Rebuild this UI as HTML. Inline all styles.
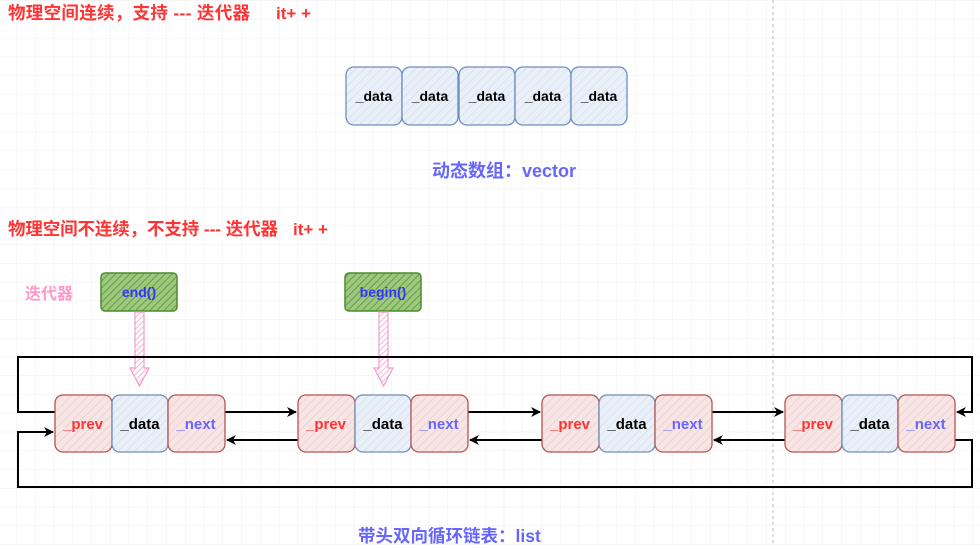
<!DOCTYPE html>
<html><head><meta charset="utf-8"><style>
html,body{margin:0;padding:0;background:#fff;}
body{width:980px;height:545px;overflow:hidden;}
svg text{font-family:"Liberation Sans","Noto Sans CJK SC",sans-serif;font-weight:bold;}
</style></head><body>
<svg width="980" height="545" xmlns="http://www.w3.org/2000/svg">
<defs>
<pattern id="grid" width="18.75" height="18.75" patternUnits="userSpaceOnUse" x="-2" y="1">
<path d="M18.75 0V18.75M0 18.75H18.75" stroke="#ececec" stroke-width="1" fill="none"/>
</pattern>
<pattern id="hb" width="6" height="6" patternUnits="userSpaceOnUse" patternTransform="rotate(45)">
<rect width="6" height="6" fill="#eaf0f8"/><line x1="0" y1="0" x2="0" y2="6" stroke="#d0dcef" stroke-width="1.5"/>
</pattern>
<pattern id="hr" width="6" height="6" patternUnits="userSpaceOnUse" patternTransform="rotate(45)">
<rect width="6" height="6" fill="#f8e6e6"/><line x1="0" y1="0" x2="0" y2="6" stroke="#efc9c9" stroke-width="1.5"/>
</pattern>
<pattern id="hg" width="5" height="5" patternUnits="userSpaceOnUse" patternTransform="rotate(45)">
<rect width="5" height="5" fill="#9cc97f"/><line x1="0" y1="0" x2="0" y2="5" stroke="#5e9a3e" stroke-width="1.8"/>
</pattern>
<pattern id="hp" width="4" height="4" patternUnits="userSpaceOnUse" patternTransform="rotate(45)">
<rect width="4" height="4" fill="#fff"/><line x1="0" y1="0" x2="0" y2="4" stroke="#f29cc8" stroke-width="1.5"/>
</pattern>
<marker id="ar" markerWidth="10" markerHeight="10" refX="9" refY="5" orient="auto" markerUnits="userSpaceOnUse">
<path d="M0,0 L10,5 L0,10 L3,5 Z" fill="#000"/>
</marker>
</defs>
<rect width="980" height="545" fill="url(#grid)"/>
<line x1="773" y1="0" x2="773" y2="545" stroke="#bbb" stroke-dasharray="3,3"/>

<text x="8" y="19" fill="#ff3333" font-size="17.5" textLength="242" lengthAdjust="spacing">物理空间连续，支持 --- 迭代器</text>
<text x="276" y="19" fill="#ff3333" font-size="17">it+ +</text>
<text x="8" y="235" fill="#ff3333" font-size="17.5" textLength="270" lengthAdjust="spacing">物理空间不连续，不支持 --- 迭代器</text>
<text x="293" y="235" fill="#ff3333" font-size="17">it+ +</text>

<g stroke="#6c8ebf" stroke-width="1.3" fill="url(#hb)">
<rect x="346" y="67" width="56" height="58" rx="8"/>
<rect x="402" y="67" width="56" height="58" rx="8"/>
<rect x="459" y="67" width="56" height="58" rx="8"/>
<rect x="515" y="67" width="56" height="58" rx="8"/>
<rect x="571" y="67" width="56" height="58" rx="8"/>
</g>
<g font-size="14" fill="#000" text-anchor="middle">
<text x="374" y="101">_data</text><text x="430" y="101">_data</text><text x="487" y="101">_data</text><text x="543" y="101">_data</text><text x="599" y="101">_data</text>
</g>
<text x="432" y="177" fill="#6666ff" font-size="18">动态数组：vector</text>

<text x="25" y="299" fill="#ff99cc" font-size="16">迭代器</text>
<rect x="101" y="273" width="76" height="38" rx="4" fill="url(#hg)" stroke="#4d8a2e" stroke-width="1.5"/>
<text x="139" y="297" fill="#3333ff" font-size="14" text-anchor="middle">end()</text>
<rect x="345" y="273" width="76" height="38" rx="4" fill="url(#hg)" stroke="#4d8a2e" stroke-width="1.5"/>
<text x="383" y="297" fill="#3333ff" font-size="14" text-anchor="middle">begin()</text>
<path d="M135,312 H144 V368 H149 L139.5,386 L130,368 H135 Z" fill="url(#hp)" stroke="#f29cc8" stroke-width="1.2"/>
<path d="M379,312 H388 V368 H393 L383.5,386 L374,368 H379 Z" fill="url(#hp)" stroke="#f29cc8" stroke-width="1.2"/>

<g fill="none" stroke="#000" stroke-width="2">
<polyline points="55,412 18,412 18,357 972,357 972,412 957,412" marker-end="url(#ar)"/>
<polyline points="955,440 972,440 972,487 18,487 18,432 53,432" marker-end="url(#ar)"/>
<line x1="225" y1="412" x2="296" y2="412" marker-end="url(#ar)"/>
<line x1="298" y1="440" x2="227" y2="440" marker-end="url(#ar)"/>
<line x1="468" y1="412" x2="540" y2="412" marker-end="url(#ar)"/>
<line x1="542" y1="440" x2="470" y2="440" marker-end="url(#ar)"/>
<line x1="712" y1="412" x2="783" y2="412" marker-end="url(#ar)"/>
<line x1="785" y1="440" x2="714" y2="440" marker-end="url(#ar)"/>
</g>

<g stroke-width="1.3">
<rect x="55" y="395" width="57" height="57" rx="8" fill="url(#hr)" stroke="#b85450"/>
<rect x="112" y="395" width="56" height="57" rx="8" fill="url(#hb)" stroke="#6c8ebf"/>
<rect x="168" y="395" width="57" height="57" rx="8" fill="url(#hr)" stroke="#b85450"/>
<rect x="298" y="395" width="57" height="57" rx="8" fill="url(#hr)" stroke="#b85450"/>
<rect x="355" y="395" width="56" height="57" rx="8" fill="url(#hb)" stroke="#6c8ebf"/>
<rect x="411" y="395" width="57" height="57" rx="8" fill="url(#hr)" stroke="#b85450"/>
<rect x="542" y="395" width="57" height="57" rx="8" fill="url(#hr)" stroke="#b85450"/>
<rect x="599" y="395" width="56" height="57" rx="8" fill="url(#hb)" stroke="#6c8ebf"/>
<rect x="655" y="395" width="57" height="57" rx="8" fill="url(#hr)" stroke="#b85450"/>
<rect x="785" y="395" width="57" height="57" rx="8" fill="url(#hr)" stroke="#b85450"/>
<rect x="842" y="395" width="56" height="57" rx="8" fill="url(#hb)" stroke="#6c8ebf"/>
<rect x="898" y="395" width="57" height="57" rx="8" fill="url(#hr)" stroke="#b85450"/>
</g>
<g font-size="15" text-anchor="middle">
<text x="83" y="429" fill="#ff3333">_prev</text><text x="140" y="429" fill="#000">_data</text><text x="196" y="429" fill="#6666ff">_next</text>
<text x="326" y="429" fill="#ff3333">_prev</text><text x="383" y="429" fill="#000">_data</text><text x="439" y="429" fill="#6666ff">_next</text>
<text x="570" y="429" fill="#ff3333">_prev</text><text x="627" y="429" fill="#000">_data</text><text x="683" y="429" fill="#6666ff">_next</text>
<text x="813" y="429" fill="#ff3333">_prev</text><text x="870" y="429" fill="#000">_data</text><text x="926" y="429" fill="#6666ff">_next</text>
</g>
<text x="358" y="542" fill="#6666ff" font-size="17.5">带头双向循环链表：list</text>
</svg>
</body></html>
